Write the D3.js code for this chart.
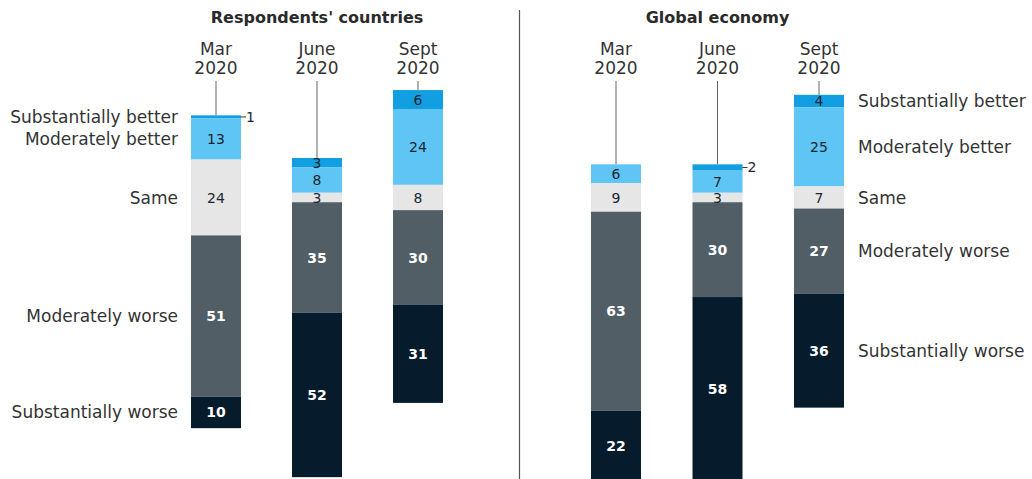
<!DOCTYPE html>
<html>
<head>
<meta charset="utf-8">
<script src="https://cdn.jsdelivr.net/npm/d3@7"></script>
<style>
  body { margin: 0; background: #fff; }
  svg { font-family: "DejaVu Sans", "Liberation Sans", sans-serif; }
</style>
</head>
<body>
<svg id="chart" width="1032" height="479"></svg>
<script>
// categories, top to bottom in each stack
const categories = ["Substantially better", "Moderately better", "Same", "Moderately worse", "Substantially worse"];
const periods = ["Mar 2020", "June 2020", "Sept 2020"];
const panelTitles = ["Respondents' countries", "Global economy"];

// % of respondents, one row per period
const countriesValues = [
    [1, 13, 24, 51, 10],
    [3, 8, 3, 35, 52],
    [6, 24, 8, 30, 31]
];
const globalValues = [
    [0, 6, 9, 63, 22],
    [2, 7, 3, 30, 58],
    [4, 25, 7, 27, 36]
];

const colors = ["#129fe2", "#5fc5f4", "#e6e6e6", "#515e66", "#061c2c"];
const textColors = ["#1b2630", "#1b2630", "#1b2630", "#ffffff", "#ffffff"];

const svg = d3.select("#chart");
const barW = 50;

// Vertical scale: 0 = middle of the "Same" segment
const y = d3.scaleLinear().domain([0, 100]).range([197.5, 197.5 + 316]);

const panels = [
    {title: panelTitles[0], data: countriesValues, x: d3.scalePoint().domain(periods).range([216, 418]), labelSide: "left"},
    {title: panelTitles[1], data: globalValues, x: d3.scalePoint().domain(periods).range([616, 819]), labelSide: "right"}
];

// divider
svg.append("line")
    .attr("x1", 519.5).attr("x2", 519.5)
    .attr("y1", 10).attr("y2", 479)
    .attr("stroke", "#555").attr("stroke-width", 1.2);

panels.forEach(p => {
    const g = svg.append("g");

    g.append("text")
        .attr("x", p.x(periods[1]))
        .attr("y", 23)
        .attr("text-anchor", "middle")
        .attr("font-size", 16)
        .attr("font-weight", "bold")
        .attr("fill", "#2a2a2a")
        .text(p.title);

    p.data.forEach((vals, i) => {
        const cx = p.x(periods[i]);
        // offset of stack top relative to centre of "Same"
        let start = -(vals[0] + vals[1] + vals[2] / 2);
        const segs = vals.map((v, k) => {
            const s = {k, v, y0: start, y1: start + v};
            start += v;
            return s;
        });
        const top = y(segs[0].y0);

        // period label with leader line
        const words = periods[i].split(" ");
        g.append("text")
            .attr("x", cx).attr("y", 55)
            .attr("text-anchor", "middle")
            .attr("font-size", 17).attr("fill", "#333")
            .selectAll("tspan").data(words).join("tspan")
            .attr("x", cx).attr("dy", (d, j) => j ? 19 : 0)
            .text(d => d);
        g.append("line")
            .attr("x1", cx).attr("x2", cx)
            .attr("y1", 81).attr("y2", top)
            .attr("stroke", "#666").attr("stroke-width", 1);

        g.selectAll(null).data(segs.filter(s => s.v > 0)).join("rect")
            .attr("x", cx - barW / 2)
            .attr("y", d => y(d.y0))
            .attr("width", barW)
            .attr("height", d => y(d.y1) - y(d.y0))
            .attr("fill", d => colors[d.k]);

        segs.filter(s => s.v > 0).forEach(s => {
            const my = (y(s.y0) + y(s.y1)) / 2;
            if (s.v <= 2) {
                g.append("line")
                    .attr("x1", cx + barW / 2).attr("x2", cx + barW / 2 + 5)
                    .attr("y1", my).attr("y2", my)
                    .attr("stroke", "#333").attr("stroke-width", 1);
                g.append("text")
                    .attr("x", cx + barW / 2 + 5).attr("y", my + 5)
                    .attr("font-size", 14).attr("fill", "#1b2630")
                    .text(s.v);
            } else {
                g.append("text")
                    .attr("x", cx).attr("y", my + 5)
                    .attr("text-anchor", "middle")
                    .attr("font-size", 14)
                    .attr("font-weight", s.k >= 3 ? "bold" : "normal")
                    .attr("fill", textColors[s.k])
                    .text(s.v);
            }
        });

        // category labels next to first (left panel) / last (right panel) bar
        const labelBar = p.labelSide === "left" ? 0 : 2;
        if (i === labelBar) {
            segs.forEach(s => {
                const my = (y(s.y0) + y(s.y1)) / 2;
                g.append("text")
                    .attr("x", p.labelSide === "left" ? cx - barW / 2 - 13 : cx + barW / 2 + 14)
                    .attr("y", my + 6)
                    .attr("text-anchor", p.labelSide === "left" ? "end" : "start")
                    .attr("font-size", 17).attr("fill", "#333")
                    .text(categories[s.k]);
            });
        }
    });
});
</script>
</body>
</html>
